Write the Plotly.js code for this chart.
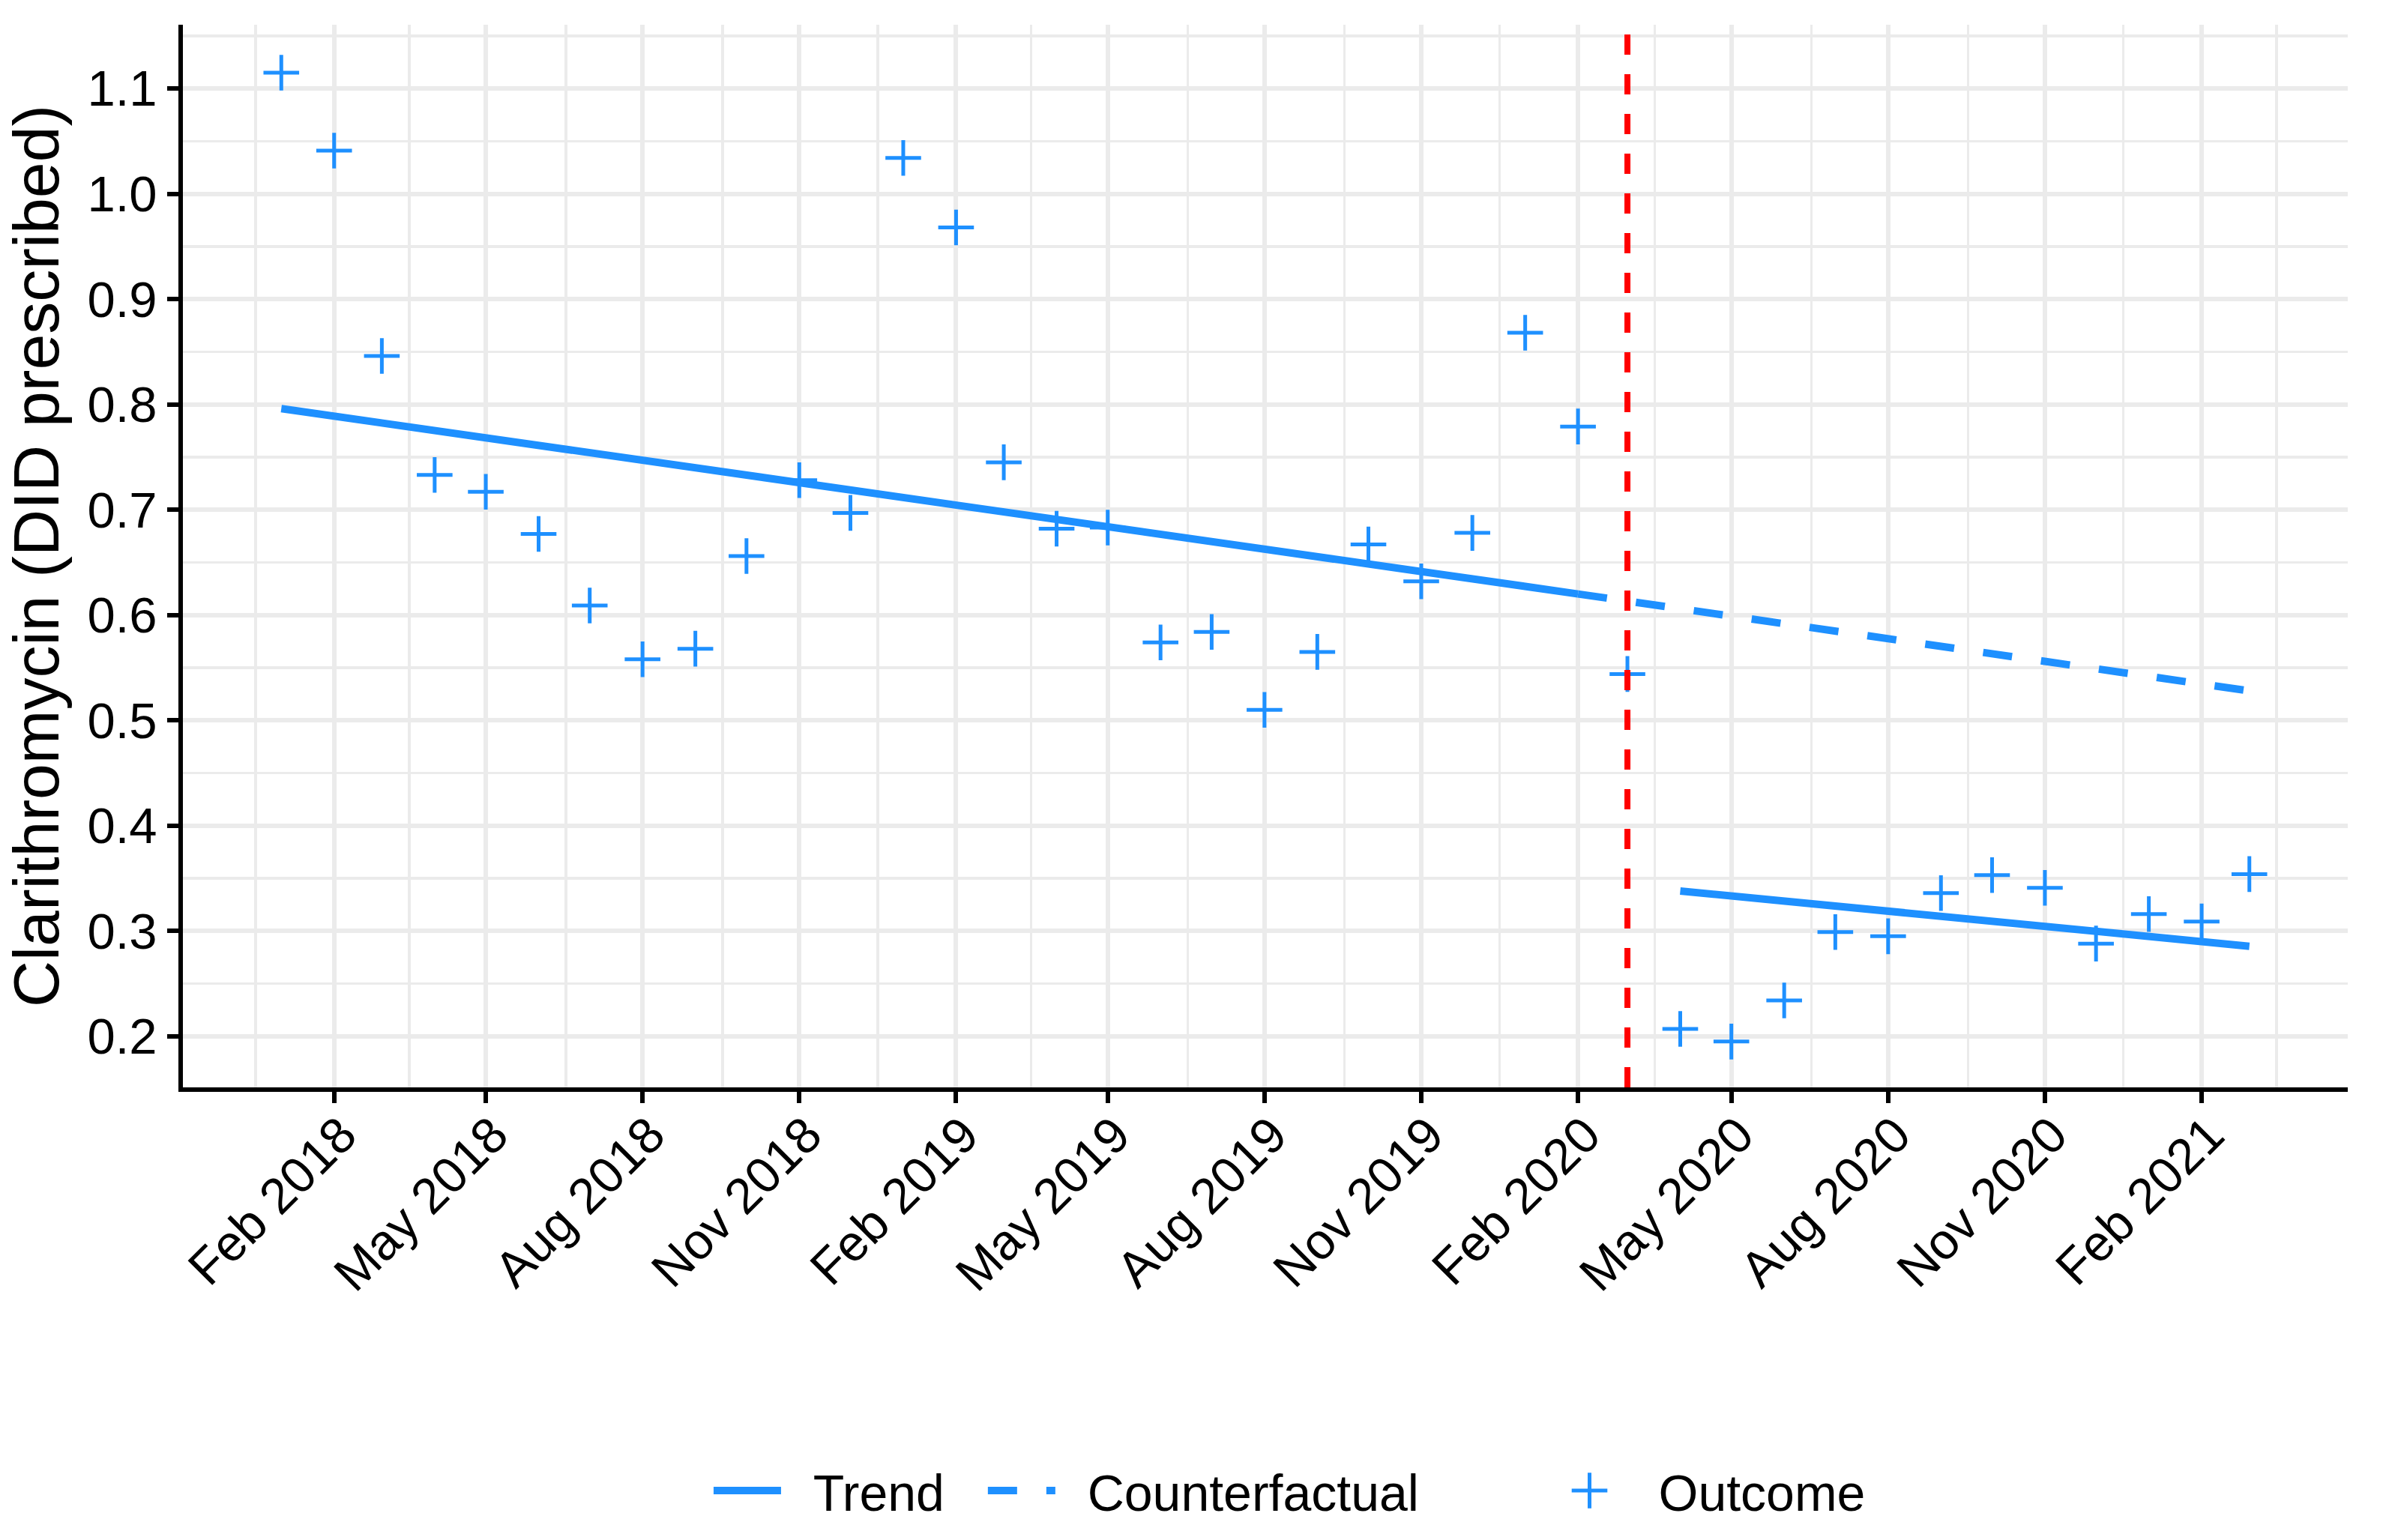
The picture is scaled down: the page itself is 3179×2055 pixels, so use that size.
<!DOCTYPE html>
<html>
<head>
<meta charset="utf-8">
<script src="https://cdn.plot.ly/plotly-3.0.1.min.js"></script>
<style>
  html, body { margin: 0; padding: 0; background: #ffffff; }
  #chart { width: 3179px; height: 2055px; }
</style>
</head>
<body>
<div id="chart"></div>
<script>
// ---- Data ----
const months = [
  '2018-01-01','2018-02-01','2018-03-01','2018-04-01','2018-05-01','2018-06-01',
  '2018-07-01','2018-08-01','2018-09-01','2018-10-01','2018-11-01','2018-12-01',
  '2019-01-01','2019-02-01','2019-03-01','2019-04-01','2019-05-01','2019-06-01',
  '2019-07-01','2019-08-01','2019-09-01','2019-10-01','2019-11-01','2019-12-01',
  '2020-01-01','2020-02-01','2020-03-01','2020-04-01','2020-05-01','2020-06-01',
  '2020-07-01','2020-08-01','2020-09-01','2020-10-01','2020-11-01','2020-12-01',
  '2021-01-01','2021-02-01','2021-03-01'
];
const outcome = [
  1.115, 1.041, 0.846, 0.733, 0.717, 0.677, 0.609, 0.558, 0.568, 0.656, 0.728, 0.697,
  1.034, 0.968, 0.745, 0.682, 0.683, 0.574, 0.584, 0.510, 0.565, 0.667, 0.632, 0.678,
  0.868, 0.779, 0.544, 0.207, 0.195, 0.234, 0.299, 0.295, 0.336, 0.353, 0.341, 0.288,
  0.316, 0.309, 0.354
];
const trendPreDates = ['2018-01-01', '2020-02-01'];
const trendPreValues = [0.796, 0.620];
const trendPostDates = ['2020-04-01', '2021-03-01'];
const trendPostValues = [0.338, 0.2855];
const counterfactualDates = ['2020-02-01', '2021-03-01'];
const counterfactualValues = [0.620, 0.528];
const interventionDate = '2020-03-01';
const yTickValues = [0.2, 0.3, 0.4, 0.5, 0.6, 0.7, 0.8, 0.9, 1.0, 1.1];
const yTickLabels = ['0.2', '0.3', '0.4', '0.5', '0.6', '0.7', '0.8', '0.9', '1.0', '1.1'];
const seriesNames = ['Trend', 'Counterfactual', 'Outcome'];
const yTitle = 'Clarithromycin (DID prescribed)';

// ---- Styles ----
const BLUE = '#1E90FF';
const FONT = '"Liberation Sans", Arial, Helvetica, sans-serif';
const GAP = '\u00a0\u00a0';

const traces = [
  {
    x: trendPreDates, y: trendPreValues, type: 'scatter', mode: 'lines',
    name: GAP + seriesNames[0], legendgroup: 'trend', legend: 'legend',
    line: { color: BLUE, width: 10 }, hoverinfo: 'skip'
  },
  {
    x: counterfactualDates, y: counterfactualValues, type: 'scatter', mode: 'lines',
    name: GAP + seriesNames[1], legend: 'legend3',
    line: { color: BLUE, width: 10, dash: '39px,39px' }, hoverinfo: 'skip'
  },
  {
    x: trendPostDates, y: trendPostValues, type: 'scatter', mode: 'lines',
    name: GAP + seriesNames[0], legendgroup: 'trend', showlegend: false,
    line: { color: BLUE, width: 10 }, hoverinfo: 'skip'
  },
  {
    x: months, y: outcome, type: 'scatter', mode: 'markers',
    name: seriesNames[2], legend: 'legend2',
    marker: { symbol: 'cross-thin-open', size: 34, color: BLUE, line: { color: BLUE, width: 5 } },
    hoverinfo: 'skip'
  }
];

const legendCommon = {
  orientation: 'h', xanchor: 'left', y: -0.3796, yanchor: 'middle',
  font: { family: FONT, size: 68, color: '#000000' },
  itemsizing: 'trace', bgcolor: 'rgba(0,0,0,0)', borderwidth: 0
};

const layout = {
  width: 3179, height: 2055,
  margin: { l: 244, r: 47, t: 33, b: 603.5, pad: 0 },
  paper_bgcolor: '#ffffff', plot_bgcolor: '#ffffff',
  font: { family: FONT, color: '#000000', size: 67 },
  showlegend: true,
  xaxis: {
    type: 'date',
    range: ['2017-11-04 06:00', '2021-04-27 18:00'],
    tickmode: 'linear', tick0: '2018-02-01', dtick: 'M3', tickformat: '%b %Y',
    tickangle: -45, ticklabelstandoff: -24, ticklabelshift: 10,
    tickfont: { family: FONT, size: 67, color: '#000000' },
    ticks: 'outside', ticklen: 15, tickwidth: 6, tickcolor: '#000000',
    showline: true, linewidth: 6, linecolor: '#000000', mirror: false,
    showgrid: true, gridcolor: '#EBEBEB', gridwidth: 6,
    minor: { tick0: '2017-12-17', dtick: 'M3', showgrid: true, gridcolor: '#EBEBEB', gridwidth: 3.5, ticks: '' },
    zeroline: false, automargin: false, fixedrange: true
  },
  yaxis: {
    range: [0.1515, 1.1605],
    tickmode: 'array', tickvals: yTickValues, ticktext: yTickLabels,
    tickfont: { family: FONT, size: 67, color: '#000000' },
    ticks: 'outside', ticklen: 15, tickwidth: 6, tickcolor: '#000000',
    showline: true, linewidth: 6, linecolor: '#000000', mirror: false,
    showgrid: true, gridcolor: '#EBEBEB', gridwidth: 6,
    minor: { tickmode: 'linear', tick0: 0.15, dtick: 0.1, showgrid: true, gridcolor: '#EBEBEB', gridwidth: 3.5, ticks: '' },
    title: { text: yTitle, font: { family: FONT, size: 86, color: '#000000' }, standoff: 16 },
    zeroline: false, automargin: false, fixedrange: true
  },
  legend: Object.assign({}, legendCommon, { x: 0.2434, itemwidth: 90 }),
  legend3: Object.assign({}, legendCommon, { x: 0.3701, itemwidth: 90 }),
  legend2: Object.assign({}, legendCommon, { x: 0.6179, itemwidth: 174 }),
  shapes: [
    {
      type: 'line', xref: 'x', yref: 'paper',
      x0: interventionDate, x1: interventionDate, y0: 0, y1: 1,
      line: { color: '#FF0000', width: 8, dash: '27px,26px' }, layer: 'above'
    }
  ]
};

Plotly.newPlot('chart', traces, layout, { staticPlot: true, displayModeBar: false }).then(function (gd) {
  // Plotly caps legend marker size; enlarge the Outcome legend glyph to match the plotted crosses.
  gd.querySelectorAll('g.legend2 path.scatterpts').forEach(function (p) {
    const t = p.getAttribute('transform') || '';
    p.setAttribute('transform', t + ' scale(2.125)');
    p.style.vectorEffect = 'non-scaling-stroke';
    p.style.strokeWidth = '5px';
  });
});
</script>
</body>
</html>
